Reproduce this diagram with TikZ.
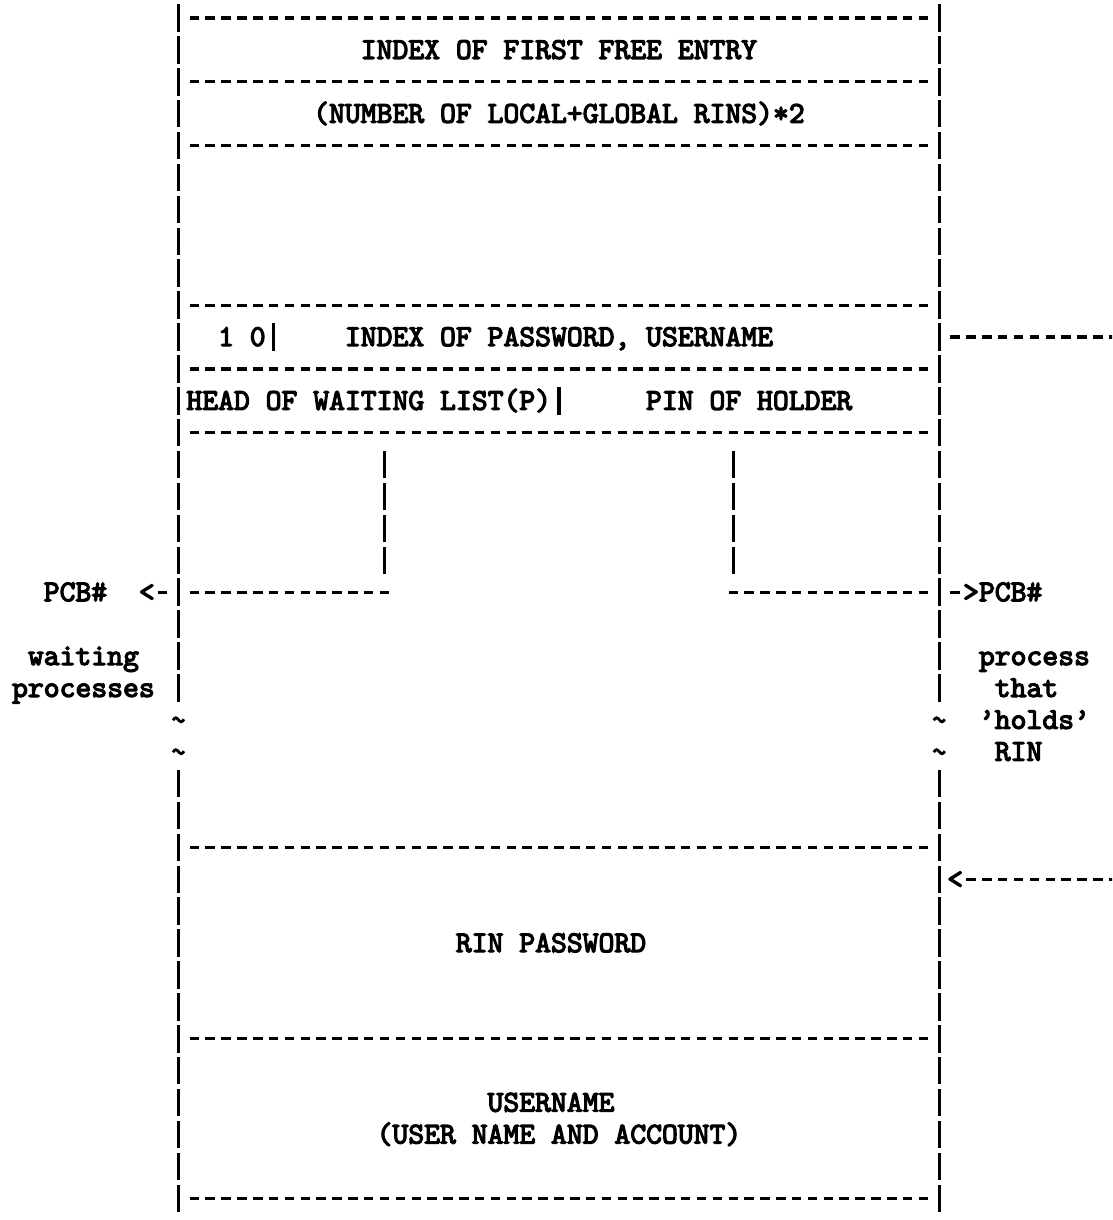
\documentclass[tikz,border=0pt]{standalone}
\usepackage{fontspec}
\newfontfamily\ascfont{lmmono10-regular.otf}[FakeBold=4]
\begin{document}
\begin{tikzpicture}[x=1pt,y=-1pt,
  declare function={cx(\x)=178.5+15.85*\x; ry(\x)=18+31.9*\x;},
  hd/.style={line width=3.2pt, dash pattern=on 9.5pt off 6.35pt},
  vb/.style={line width=3.4pt, dash pattern=on 27.5pt off 4.4pt},
  txt/.style={font=\fontsize{30.2}{32}\selectfont\ascfont, inner sep=0pt, outer sep=0pt, anchor=base west},
  tld/.style={line width=2.8pt}]
\useasboundingbox (0,0) rectangle (1112,1220);
\clip (0,0) rectangle (1112,1220);

% outer borders
\coordinate (LT) at ({cx(0)},{ry(0)-13.75});
\coordinate (LM) at ({cx(0)},{ry(21)+13.75});
\coordinate (LU) at ({cx(0)},{ry(24)-13.75});
\coordinate (LB) at ({cx(0)},{ry(37)+13.75});
\coordinate (RT) at ({cx(48)},{ry(0)-13.75});
\coordinate (RM) at ({cx(48)},{ry(21)+13.75});
\coordinate (RU) at ({cx(48)},{ry(24)-13.75});
\coordinate (RB) at ({cx(48)},{ry(37)+13.75});
\draw[vb] (LT) -- (LM);
\draw[vb] (LU) -- (LB);
\draw[vb] (RT) -- (RM);
\draw[vb] (RU) -- (RB);

% horizontal separators
\foreach \r in {0,2,4,9,11,13,26,32,37}
  \draw[hd] ({cx(1)-4.75},{ry(\r)}) -- ({cx(47)+4.75},{ry(\r)});

% small bars inside rows
\draw[vb] ({cx(6)},{ry(10)-13.75}) -- ({cx(6)},{ry(10)+13.75});
\draw[vb] ({cx(24)},{ry(12)-13.75}) -- ({cx(24)},{ry(12)+13.75});

% pointer lines
\coordinate (WT) at ({cx(13)},{ry(14)-13.75});
\coordinate (WB) at ({cx(13)},{ry(17)+13.75});
\coordinate (HT) at ({cx(35)},{ry(14)-13.75});
\coordinate (HB) at ({cx(35)},{ry(17)+13.75});
\draw[vb] (WT) -- (WB);
\draw[vb] (HT) -- (HB);
\draw[hd] ({cx(1)-4.75},{ry(18)}) -- ({cx(13)+4.75},{ry(18)});
\draw[hd] ({cx(35)-4.75},{ry(18)}) -- ({cx(47)+4.75},{ry(18)});
\draw[hd] ({cx(-1)-4.75},{ry(18)}) -- ({cx(-1)+4.75},{ry(18)});
\draw[hd] ({cx(49)-4.75},{ry(18)}) -- ({cx(49)+4.75},{ry(18)});
\draw[hd] ({cx(49)-4.75},{ry(10)}) -- ({cx(60)},{ry(10)});
\draw[hd] ({cx(50)-4.75},{ry(27)}) -- ({cx(60)},{ry(27)});

% tildes
\foreach \r in {22,23}
  \foreach \c in {0,48}
    \draw[tld] ({cx(\c)-5.5},{ry(\r)+0.5}) sin ({cx(\c)-2.75},{ry(\r)-2}) cos ({cx(\c)},{ry(\r)})
      sin ({cx(\c)+2.75},{ry(\r)+2}) cos ({cx(\c)+5.5},{ry(\r)-0.5});

% texts
\node[txt] (t1)  at ({cx(12)-7.925},{ry(1)+9}) {INDEX OF FIRST FREE ENTRY};
\node[txt] (t3)  at ({cx(9)-7.925},{ry(3)+9}) {(NUMBER OF LOCAL+GLOBAL RINS)*2};
\node[txt] (t10a) at ({cx(3)-7.925},{ry(10)+9}) {1 0};
\node[txt] (t10b) at ({cx(11)-7.925},{ry(10)+9}) {INDEX OF PASSWORD, USERNAME};
\node[txt] (t12a) at ({cx(1)-7.925},{ry(12)+9}) {HEAD OF WAITING LIST(P)};
\node[txt] (t12b) at ({cx(30)-7.925},{ry(12)+9}) {PIN OF HOLDER};
\node[txt] (pcbl) at ({cx(-8)-7.925},{ry(18)+9}) {PCB\#};
\node[txt] (ltl)  at ({cx(-2)-7.925},{ry(18)+9}) {<};
\node[txt] (gtr)  at ({cx(50)-7.925},{ry(18)+9}) {>};
\node[txt] (pcbr) at ({cx(51)-7.925},{ry(18)+9}) {PCB\#};
\node[txt] (w1) at ({cx(-9)-7.925},{ry(20)+9}) {waiting};
\node[txt] (w2) at ({cx(-10)-7.925},{ry(21)+9}) {processes};
\node[txt] (p1) at ({cx(51)-7.925},{ry(20)+9}) {process};
\node[txt] (p2) at ({cx(52)-7.925},{ry(21)+9}) {that};
\node[txt] (p3) at ({cx(51)-7.925},{ry(22)+9}) {’holds’};
\node[txt] (p4) at ({cx(52)-7.925},{ry(23)+9}) {RIN};
\node[txt] (ltr) at ({cx(49)-7.925},{ry(27)+9}) {<};
\node[txt] (t29) at ({cx(18)-7.925},{ry(29)+9}) {RIN PASSWORD};
\node[txt] (t34) at ({cx(20)-7.925},{ry(34)+9}) {USERNAME};
\node[txt] (t35) at ({cx(13)-7.925},{ry(35)+9}) {(USER NAME AND ACCOUNT)};
\end{tikzpicture}
\end{document}
